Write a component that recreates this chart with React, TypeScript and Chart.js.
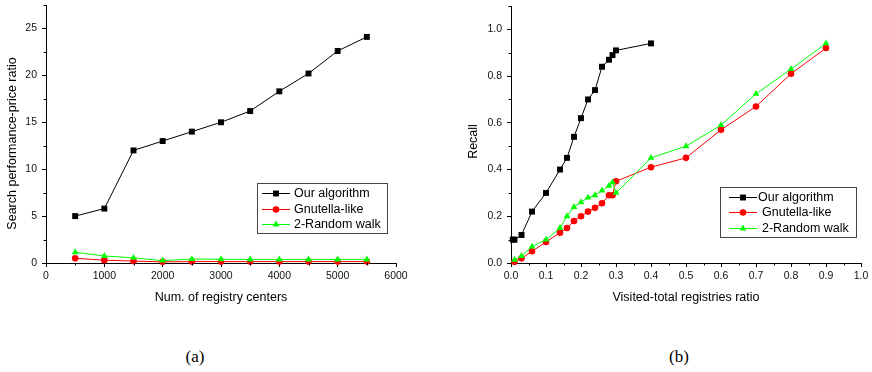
import React, { useEffect, useRef } from "react";
import { Chart, registerables } from "chart.js";
Chart.register(...registerables);

const FONT = "'Liberation Sans', Arial, Helvetica, sans-serif";
Chart.defaults.font.family = FONT;

const seriesNames = ["Our algorithm", "Gnutella-like", "2-Random walk"];
const seriesColors = ["#000000", "#ff0000", "#00ff00"];
const seriesMarkers = ["rect", "circle", "triangle"];

// Panel (a)
const registryCenters = [500, 1000, 1500, 2000, 2500, 3000, 3500, 4000, 4500, 5000, 5500];
const ourAlgorithmA = [5.0, 5.8, 12.0, 13.0, 14.0, 15.0, 16.2, 18.3, 20.2, 22.6, 24.1];
const gnutellaA = [0.5, 0.3, 0.2, 0.12, 0.15, 0.15, 0.15, 0.15, 0.15, 0.15, 0.15];
const randomWalkA = [1.15, 0.75, 0.55, 0.25, 0.42, 0.4, 0.38, 0.38, 0.38, 0.38, 0.38];
const xTicksA = [0, 1000, 2000, 3000, 4000, 5000, 6000];
const yTicksA = [0, 5, 10, 15, 20, 25];

// Panel (b)
const ourRatioB = [0.005, 0.01, 0.03, 0.06, 0.1, 0.14, 0.16, 0.18, 0.2, 0.22, 0.24, 0.26, 0.28, 0.29, 0.3, 0.4];
const ourRecallB = [0.1, 0.1, 0.12, 0.22, 0.3, 0.4, 0.45, 0.54, 0.62, 0.7, 0.74, 0.84, 0.87, 0.89, 0.91, 0.94];
const gnutRatioB = [0.01, 0.03, 0.06, 0.1, 0.14, 0.16, 0.18, 0.2, 0.22, 0.24, 0.26, 0.28, 0.29, 0.3, 0.4, 0.5, 0.6, 0.7, 0.8, 0.9];
const gnutRecallB = [0.005, 0.02, 0.05, 0.09, 0.13, 0.15, 0.18, 0.2, 0.22, 0.236, 0.256, 0.29, 0.29, 0.35, 0.41, 0.45, 0.57, 0.67, 0.81, 0.92];
const walkRatioB = [0.01, 0.03, 0.06, 0.1, 0.14, 0.16, 0.18, 0.2, 0.22, 0.24, 0.26, 0.28, 0.29, 0.3, 0.4, 0.5, 0.6, 0.7, 0.8, 0.9];
const walkRecallB = [0.014, 0.03, 0.07, 0.1, 0.15, 0.2, 0.24, 0.26, 0.28, 0.29, 0.31, 0.33, 0.345, 0.3, 0.45, 0.5, 0.59, 0.724, 0.83, 0.94];
const xTicksB = [0, 0.1, 0.2, 0.3, 0.4, 0.5, 0.6, 0.7, 0.8, 0.9, 1.0];
const yTicksB = [0, 0.2, 0.4, 0.6, 0.8, 1.0];

const zip = (xs: number[], ys: number[]) => xs.map((x, i) => ({ x, y: ys[i] }));

function drawMarker(ctx: CanvasRenderingContext2D, style: string, x: number, y: number, r: number, color: string) {
  ctx.fillStyle = color;
  ctx.beginPath();
  if (style === "rect") {
    const s = r * Math.SQRT1_2;
    ctx.rect(x - s, y - s, 2 * s, 2 * s);
  } else if (style === "circle") {
    ctx.arc(x, y, r, 0, Math.PI * 2);
  } else {
    for (let k = 0; k < 3; k++) {
      const a = (k * 2 * Math.PI) / 3;
      const px = x + Math.sin(a) * r;
      const py = y - Math.cos(a) * r;
      if (k === 0) ctx.moveTo(px, py);
      else ctx.lineTo(px, py);
    }
    ctx.closePath();
  }
  ctx.fill();
}

const radii = [4.2, 3.3, 3.9];

function makeDatasets(series: { x: number; y: number }[][]) {
  return series.map((data, i) => ({
    label: seriesNames[i],
    data,
    borderColor: seriesColors[i],
    backgroundColor: seriesColors[i],
    pointBackgroundColor: seriesColors[i],
    pointBorderColor: seriesColors[i],
    pointBorderWidth: 0,
    borderWidth: 1,
    pointStyle: seriesMarkers[i],
    pointRadius: radii[i],
    pointHoverRadius: radii[i],
    tension: 0,
    showLine: true,
    clip: false as any,
    order: [0, 2, 1][i],
  }));
}

type PanelCfg = {
  xMin: number; xMax: number; yMin: number; yMax: number;
  xTicks: number[]; yTicks: number[]; xStep: number; yStep: number;
  xDigits: number; yDigits: number;
  xTitle: string; yTitle: string;
  yAxisWidth: number; padRight: number; padTop: number;
  yTitleDx: number; yTitleDy: number;
  legend: { right: number; bottom: number; width: number; height: number; rows: number[]; lineStart: number; lineLen: number; textX: number[] };
  datasets: any[];
};

function buildConfig(p: PanelCfg): any {
  const plugin = {
    id: "panelExtras",
    afterDraw(chart: any) {
      const ctx: CanvasRenderingContext2D = chart.ctx;
      const ca = chart.chartArea;
      ctx.save();
      // minor ticks
      ctx.strokeStyle = "#000";
      ctx.lineWidth = 1;
      const xs = chart.scales.x;
      const ys = chart.scales.y;
      for (let i = 0; ; i++) {
        const v = xs.min + (i + 0.5) * p.xStep;
        if (v > xs.max + 1e-9) break;
        const px = Math.round(xs.getPixelForValue(v)) + 0.5;
        ctx.beginPath();
        ctx.moveTo(px, ca.bottom);
        ctx.lineTo(px, ca.bottom + 2.5);
        ctx.stroke();
      }
      for (let i = 0; ; i++) {
        const v = ys.min + (i + 0.5) * p.yStep;
        if (v > ys.max + 1e-9) break;
        const py = Math.round(ys.getPixelForValue(v)) + 0.5;
        ctx.beginPath();
        ctx.moveTo(ca.left - 2.5, py);
        ctx.lineTo(ca.left, py);
        ctx.stroke();
      }
      // y title
      ctx.fillStyle = "#000";
      ctx.font = `12.5px ${FONT}`;
      ctx.textAlign = "center";
      ctx.textBaseline = "middle";
      ctx.translate(ca.left - p.yTitleDx, (ca.top + ca.bottom) / 2 + p.yTitleDy);
      ctx.rotate(-Math.PI / 2);
      ctx.fillText(p.yTitle, 0, 0);
      ctx.restore();

      // legend
      const L = p.legend;
      ctx.save();
      const right = ca.right - L.right;
      const bottom = ca.bottom - L.bottom;
      const left = Math.round(right - L.width);
      const top = Math.round(bottom - L.height);
      ctx.fillStyle = "#fff";
      ctx.fillRect(left, top, L.width, L.height);
      ctx.strokeStyle = "#444";
      ctx.lineWidth = 1;
      ctx.strokeRect(left + 0.5, top + 0.5, L.width, L.height);
      ctx.font = `12.5px ${FONT}`;
      ctx.textAlign = "left";
      ctx.textBaseline = "middle";
      chart.data.datasets.forEach((ds: any, i: number) => {
        const y = top + L.rows[i];
        const x0 = left + L.lineStart;
        ctx.strokeStyle = ds.borderColor;
        ctx.lineWidth = 1;
        ctx.beginPath();
        ctx.moveTo(x0, Math.round(y) + 0.5);
        ctx.lineTo(x0 + L.lineLen, Math.round(y) + 0.5);
        ctx.stroke();
        drawMarker(ctx, ds.pointStyle, x0 + L.lineLen / 2, Math.round(y) + 0.5, ds.pointRadius, ds.pointBackgroundColor);
        ctx.fillStyle = "#000";
        ctx.fillText(ds.label, left + L.textX[i], y + 0.5);
      });
      ctx.restore();
    },
  };

  const tickFont = { family: FONT, size: 10.5 };
  return {
    type: "scatter",
    data: { datasets: p.datasets },
    plugins: [plugin],
    options: {
      animation: false,
      responsive: false,
      maintainAspectRatio: false,
      events: [],
      layout: { padding: { left: 0, right: p.padRight, top: p.padTop, bottom: 0 } },
      plugins: { legend: { display: false }, tooltip: { enabled: false } },
      scales: {
        x: {
          type: "linear",
          min: p.xMin,
          max: p.xMax,
          afterBuildTicks: (s: any) => {
            s.ticks = p.xTicks.map((v) => ({ value: v }));
          },
          afterFit: (s: any) => {
            s.height = 47;
            s.paddingLeft = 0;
            s.paddingRight = 0;
            s.paddingTop = 0;
            s.paddingBottom = 0;
          },
          ticks: {
            font: tickFont,
            color: "#111",
            padding: 3,
            maxRotation: 0,
            autoSkip: false,
            callback: (v: any) => Number(v).toFixed(p.xDigits),
          },
          grid: { drawOnChartArea: false, drawTicks: true, tickLength: 4, color: "#000", lineWidth: 1 },
          border: { display: true, color: "#000", width: 1 },
          title: {
            display: true,
            text: p.xTitle,
            color: "#000",
            font: { family: FONT, size: 12.5 },
            padding: { top: 0, bottom: 5 },
          },
        },
        y: {
          type: "linear",
          min: p.yMin,
          max: p.yMax,
          afterBuildTicks: (s: any) => {
            s.ticks = p.yTicks.map((v) => ({ value: v }));
          },
          afterFit: (s: any) => {
            s.width = p.yAxisWidth;
            s.paddingLeft = 0;
            s.paddingRight = 0;
            s.paddingTop = 0;
            s.paddingBottom = 0;
          },
          ticks: {
            font: tickFont,
            color: "#111",
            padding: 5,
            autoSkip: false,
            callback: (v: any) => Number(v).toFixed(p.yDigits),
          },
          grid: { drawOnChartArea: false, drawTicks: true, tickLength: 4, color: "#000", lineWidth: 1 },
          border: { display: true, color: "#000", width: 1 },
          title: { display: false },
        },
      },
    },
  };
}

function Panel({ cfg, left }: { cfg: PanelCfg; left: number }) {
  const ref = useRef<HTMLCanvasElement | null>(null);
  useEffect(() => {
    if (!ref.current) return;
    const chart = new Chart(ref.current, buildConfig(cfg));
    return () => chart.destroy();
  }, []);
  return (
    <canvas
      ref={ref}
      width={436}
      height={310}
      style={{ position: "absolute", left, top: 0, width: 436, height: 310 }}
    />
  );
}

const panelA: PanelCfg = {
  xMin: 0, xMax: 6000, yMin: 0, yMax: 27.5,
  xTicks: xTicksA, yTicks: yTicksA, xStep: 1000, yStep: 5,
  xDigits: 0, yDigits: 0,
  xTitle: "Num. of registry centers",
  yTitle: "Search performance-price ratio",
  yAxisWidth: 46, padRight: 40, padTop: 5,
  yTitleDx: 33, yTitleDy: 9.5,
  legend: { right: 9, bottom: 30, width: 130, height: 50, rows: [10, 26, 41], lineStart: 5, lineLen: 28, textX: [37, 37, 37] },
  datasets: makeDatasets([
    zip(registryCenters, ourAlgorithmA),
    zip(registryCenters, gnutellaA),
    zip(registryCenters, randomWalkA),
  ]),
};

const panelB: PanelCfg = {
  xMin: 0, xMax: 1.0, yMin: 0, yMax: 1.1,
  xTicks: xTicksB, yTicks: yTicksB, xStep: 0.1, yStep: 0.2,
  xDigits: 1, yDigits: 1,
  xTitle: "Visited-total registries ratio",
  yTitle: "Recall",
  yAxisWidth: 75, padRight: 11, padTop: 6,
  yTitleDx: 37.5, yTitleDy: 7,
  legend: { right: 5, bottom: 26, width: 136, height: 50, rows: [10, 25, 41], lineStart: 9, lineLen: 28, textX: [38, 42, 42] },
  datasets: makeDatasets([
    zip(ourRatioB, ourRecallB),
    zip(gnutRatioB, gnutRecallB),
    zip(walkRatioB, walkRecallB),
  ]),
};

const captionStyle: React.CSSProperties = {
  position: "absolute",
  top: 347,
  width: 60,
  textAlign: "center",
  fontFamily: "'Liberation Serif', 'Times New Roman', serif",
  fontSize: 17,
  lineHeight: "20px",
  color: "#000",
};

export default function App() {
  return (
    <div style={{ position: "absolute", left: 0, top: 0, width: 872, height: 372, background: "#fff", overflow: "hidden" }}>
      <Panel cfg={panelA} left={0} />
      <Panel cfg={panelB} left={436} />
      <div style={{ ...captionStyle, left: 165 }}>(a)</div>
      <div style={{ ...captionStyle, left: 649 }}>(b)</div>
    </div>
  );
}
